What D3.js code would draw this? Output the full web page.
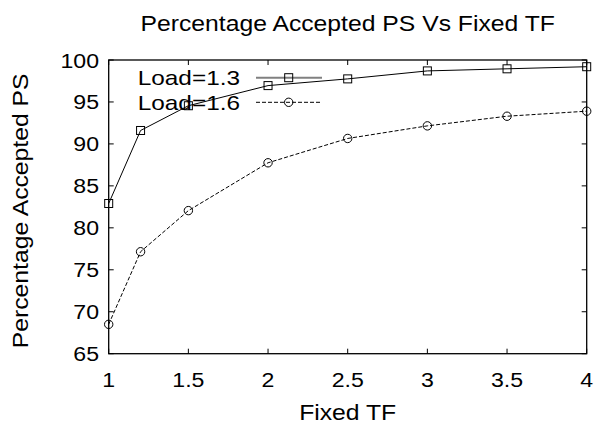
<!DOCTYPE html>
<html>
<head>
<meta charset="utf-8">
<script src="https://cdn.jsdelivr.net/npm/d3@7"></script>
<style>
  body { margin: 0; background: #fff; }
  text { font-family: "Liberation Sans", Arial, sans-serif; fill: #000; }
</style>
</head>
<body>
<div id="chart"></div>
<script>
const tf = [1, 1.2, 1.5, 2, 2.5, 3, 3.5, 4];
const load13 = [82.9, 91.6, 94.55, 96.95, 97.75, 98.7, 98.95, 99.2];
const load16 = [68.5, 77.15, 82.05, 87.75, 90.65, 92.15, 93.3, 93.9];
const xTicks = [1, 1.5, 2, 2.5, 3, 3.5, 4];
const yTicks = [65, 70, 75, 80, 85, 90, 95, 100];

const width = 595, height = 426;
const margin = { left: 108.7, right: 8.3, top: 60, bottom: 72.3 };
const stretch = "scale(1.1,1)";
const stretchWide = "scale(1.15,1)";

const svg = d3.select("#chart").append("svg")
  .attr("width", width)
  .attr("height", height);

const x = d3.scaleLinear().domain([1, 4]).range([margin.left, width - margin.right]);
const y = d3.scaleLinear().domain([65, 100]).range([height - margin.bottom, margin.top]);

// ticks inward on all four sides, gnuplot style
const tickLen = 5;
const g = svg.append("g").attr("stroke", "#000").attr("stroke-width", 1);
xTicks.forEach(t => {
  g.append("line").attr("x1", x(t)).attr("x2", x(t)).attr("y1", y(65)).attr("y2", y(65) - tickLen);
  g.append("line").attr("x1", x(t)).attr("x2", x(t)).attr("y1", y(100)).attr("y2", y(100) + tickLen);
});
yTicks.forEach(t => {
  g.append("line").attr("x1", x(1)).attr("x2", x(1) + tickLen).attr("y1", y(t)).attr("y2", y(t));
  g.append("line").attr("x1", x(4)).attr("x2", x(4) - tickLen).attr("y1", y(t)).attr("y2", y(t));
});

svg.append("rect")
  .attr("x", x(1)).attr("y", y(100))
  .attr("width", x(4) - x(1)).attr("height", y(65) - y(100))
  .attr("fill", "none").attr("stroke", "#000").attr("stroke-width", 1.3);

// tick labels
svg.append("g").selectAll("text").data(xTicks).join("text")
  .attr("transform", d => `translate(${x(d)},387) ${stretch}`)
  .attr("text-anchor", "middle")
  .style("font-size", "21px")
  .text(d => d);

svg.append("g").selectAll("text").data(yTicks).join("text")
  .attr("transform", d => `translate(99,${y(d) + 7.5}) ${stretch}`)
  .attr("text-anchor", "end")
  .style("font-size", "21px")
  .text(d => d);

// title and axis labels
svg.append("text")
  .attr("transform", `translate(${(x(1) + x(4)) / 2},31) ${stretchWide}`)
  .attr("text-anchor", "middle")
  .style("font-size", "21.5px")
  .text("Percentage Accepted PS Vs Fixed TF");

svg.append("text")
  .attr("transform", `translate(${(x(1) + x(4)) / 2},420) ${stretchWide}`)
  .attr("text-anchor", "middle")
  .style("font-size", "21.5px")
  .text("Fixed TF");

svg.append("text")
  .attr("transform", `translate(28,${(y(65) + y(100)) / 2 + 4}) rotate(-90) ${stretchWide}`)
  .attr("text-anchor", "middle")
  .style("font-size", "21.5px")
  .text("Percentage Accepted PS");

// series
const line = d3.line().x(d => x(d[0])).y(d => y(d[1]));
const s13 = tf.map((t, i) => [t, load13[i]]);
const s16 = tf.map((t, i) => [t, load16[i]]);

svg.append("path").datum(s13).attr("d", line)
  .attr("fill", "none").attr("stroke", "#000").attr("stroke-width", 1);
svg.append("path").datum(s16).attr("d", line)
  .attr("fill", "none").attr("stroke", "#000").attr("stroke-width", 1)
  .attr("stroke-dasharray", "4,2");

const sq = 8;
svg.append("g").selectAll("rect").data(s13).join("rect")
  .attr("x", d => x(d[0]) - sq / 2).attr("y", d => y(d[1]) - sq / 2)
  .attr("width", sq).attr("height", sq)
  .attr("fill", "none").attr("stroke", "#000").attr("stroke-width", 1);
svg.append("g").selectAll("circle").data(s16).join("circle")
  .attr("cx", d => x(d[0])).attr("cy", d => y(d[1])).attr("r", 4.2)
  .attr("fill", "none").attr("stroke", "#000").attr("stroke-width", 1);

// legend
const legend = svg.append("g");
legend.append("text")
  .attr("transform", `translate(240,85) scale(1.16,1)`)
  .attr("text-anchor", "end").style("font-size", "21px").text("Load=1.3");
legend.append("line").attr("x1", 256).attr("x2", 322).attr("y1", 77.7).attr("y2", 77.7)
  .attr("stroke", "#808080").attr("stroke-width", 2);
legend.append("rect").attr("x", 288.7 - sq / 2).attr("y", 77.7 - sq / 2)
  .attr("width", sq).attr("height", sq)
  .attr("fill", "none").attr("stroke", "#000").attr("stroke-width", 1);

legend.append("text")
  .attr("transform", `translate(240,109.6) scale(1.16,1)`)
  .attr("text-anchor", "end").style("font-size", "21px").text("Load=1.6");
legend.append("line").attr("x1", 256).attr("x2", 322).attr("y1", 102.3).attr("y2", 102.3)
  .attr("stroke", "#000").attr("stroke-width", 1).attr("stroke-dasharray", "4,2");
legend.append("circle").attr("cx", 288.7).attr("cy", 102.3).attr("r", 4.2)
  .attr("fill", "none").attr("stroke", "#000").attr("stroke-width", 1);
</script>
</body>
</html>
